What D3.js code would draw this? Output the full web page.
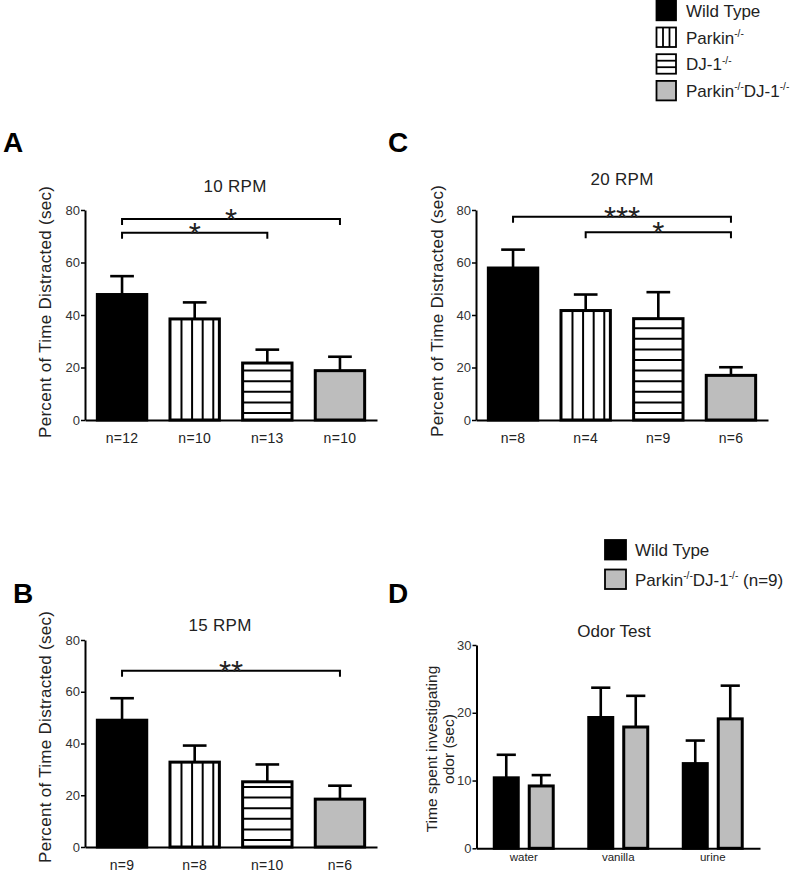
<!DOCTYPE html>
<html><head><meta charset="utf-8">
<script src="https://cdn.jsdelivr.net/npm/d3@7"></script>
<style>body{margin:0;background:#fff}</style>
</head><body>
<svg id="chart" width="800" height="872"></svg>
<script>
// ---------- DATA ----------
const genotypes = ["Wild Type", "Parkin-/-", "DJ-1-/-", "Parkin-/-DJ-1-/-"];
const rpmTicks = [0, 20, 40, 60, 80];

const rpm10Mean = [47.8, 38.5, 21.7, 18.8];
const rpm10Sem  = [7.0, 6.3, 5.1, 5.3];
const rpm10N    = ["n=12", "n=10", "n=13", "n=10"];
const rpm10Sig  = [[0, 3, "*", 76.6], [0, 2, "*", 71.3]];

const rpm15Mean = [49.0, 32.8, 25.2, 18.5];
const rpm15Sem  = [8.5, 6.4, 6.7, 5.2];
const rpm15N    = ["n=9", "n=8", "n=10", "n=6"];
const rpm15Sig  = [[0, 3, "**", 68.1]];

const rpm20Mean = [57.9, 41.7, 38.6, 17.0];
const rpm20Sem  = [7.0, 6.1, 10.1, 3.1];
const rpm20N    = ["n=8", "n=4", "n=9", "n=6"];
const rpm20Sig  = [[0, 3, "***", 77.4], [1, 3, "*", 71.5]];

const odorCats    = ["water", "vanilla", "urine"];
const odorGroups  = ["Wild Type", "Parkin-/-DJ-1-/-"];
const odorTicks   = [0, 10, 20, 30];
const odorWTMean  = [10.4, 19.3, 12.5];
const odorWTSem   = [3.4, 4.4, 3.4];
const odorDKOMean = [9.2, 17.9, 19.1];
const odorDKOSem  = [1.6, 4.6, 4.9];

// legend label pieces: [text, isSuperscript]
const legendLabels = [
  [["Wild Type", false]],
  [["Parkin", false], ["-/-", true]],
  [["DJ-1", false], ["-/-", true]],
  [["Parkin", false], ["-/-", true], ["DJ-1", false], ["-/-", true]]
];
const odorLegendLabels = [
  [["Wild Type", false]],
  [["Parkin", false], ["-/-", true], ["DJ-1", false], ["-/-", true], [" (n=9)", false]]
];

// ---------- STYLE ----------
const FONT = "'Liberation Sans', Arial, Helvetica, sans-serif";
const TEXT = "#222";
const GREY = "#bdbdbd";
const fills = ["#000", "#fff", "#fff", GREY];
const hatch = ["none", "vertical", "horizontal", "none"];

const svg = d3.select("#chart").attr("font-family", FONT);

function richText(sel, pieces, size) {
  let raised = false;
  pieces.forEach(([t, sup]) => {
    const ts = sel.append("tspan").text(t);
    if (sup && !raised) { ts.attr("font-size", size * 0.6).attr("dy", -size * 0.38); raised = true; }
    else if (!sup && raised) { ts.attr("dy", size * 0.38); raised = false; }
    else if (sup) ts.attr("font-size", size * 0.6);
  });
}

function drawBar(g, xb, w, yTop, yBase, fill, hatchType) {
  g.append("rect").attr("x", xb).attr("y", yTop).attr("width", w).attr("height", yBase - yTop)
    .attr("fill", fill);
  if (hatchType === "vertical") {
    for (let xx = xb + 11.5; xx < xb + w - 3; xx += 10.6)
      g.append("line").attr("x1", xx).attr("x2", xx).attr("y1", yTop).attr("y2", yBase)
        .attr("stroke", "#000").attr("stroke-width", 2);
  } else if (hatchType === "horizontal") {
    for (let yy = yBase - 7; yy > yTop + 4; yy -= 10.6)
      g.append("line").attr("x1", xb).attr("x2", xb + w).attr("y1", yy).attr("y2", yy)
        .attr("stroke", "#000").attr("stroke-width", 2);
  }
  g.append("rect").attr("x", xb).attr("y", yTop).attr("width", w).attr("height", yBase - yTop)
    .attr("fill", "none").attr("stroke", "#000").attr("stroke-width", 3);
}

function errBar(g, cx, y1, y2, capW) {
  g.append("line").attr("x1", cx).attr("x2", cx).attr("y1", y1).attr("y2", y2)
    .attr("stroke", "#000").attr("stroke-width", 2.6);
  g.append("line").attr("x1", cx - capW / 2).attr("x2", cx + capW / 2).attr("y1", y2).attr("y2", y2)
    .attr("stroke", "#000").attr("stroke-width", 2.6);
}

function styleYAxis(ax) {
  ax.select(".domain").attr("stroke", "#000").attr("stroke-width", 2);
  ax.selectAll(".tick line").attr("stroke", "#000").attr("stroke-width", 1.5);
  ax.selectAll(".tick text").attr("font-size", 13).attr("fill", "#333").attr("font-family", FONT);
}

function yLabel(cx, cy, lines, size, len) {
  const t = svg.append("text").attr("transform", `translate(${cx},${cy}) rotate(-90)`)
    .attr("text-anchor", "middle").attr("font-size", size).attr("fill", TEXT);
  lines.forEach((l, i) => {
    const ts = t.append("tspan").attr("x", 0).attr("dy", i === 0 ? (lines.length === 1 ? "0.35em" : `${0.35 - (lines.length - 1) * 0.55}em`) : "1.1em").text(l);
    if (len) ts.attr("textLength", len).attr("lengthAdjust", "spacing");
  });
}

function rpmPanel(cfg) {
  const g = svg.append("g");
  const x = d3.scaleBand().domain(genotypes).range([cfg.x0, cfg.x1]).paddingInner(0.32).paddingOuter(0.17);
  const y = d3.scaleLinear().domain([0, 80]).range([cfg.yBottom, cfg.yTop]);
  const bw = x.bandwidth();

  genotypes.forEach((gname, i) => {
    const xb = x(gname);
    errBar(g, xb + bw / 2, y(cfg.mean[i]), y(cfg.mean[i] + cfg.sem[i]), bw * 0.48);
    drawBar(g, xb, bw, y(cfg.mean[i]), y(0), fills[i], hatch[i]);
  });

  const ay = g.append("g").attr("transform", `translate(${cfg.x0},0)`)
    .call(d3.axisLeft(y).tickValues(rpmTicks).tickSize(4).tickSizeOuter(0).tickPadding(1));
  styleYAxis(ay);
  const ax = g.append("g").attr("transform", `translate(0,${y(0)})`)
    .call(d3.axisBottom(x).tickSize(0).tickSizeOuter(0).tickPadding(13).tickFormat((d, i) => cfg.n[i]));
  ax.select(".domain").attr("stroke", "#000").attr("stroke-width", 2);
  ax.selectAll(".tick text").attr("font-size", 14).attr("fill", TEXT).attr("font-family", FONT)
    .attr("letter-spacing", 0.3);

  cfg.sig.forEach(([a, b, lab, lvl]) => {
    const xa = x(genotypes[a]) + bw / 2, xbb = x(genotypes[b]) + bw / 2, yl = y(lvl);
    g.append("path").attr("d", `M${xa},${yl + 6}V${yl}H${xbb}V${yl + 6}`)
      .attr("fill", "none").attr("stroke", "#000").attr("stroke-width", 2);
    g.append("text").attr("x", (xa + xbb) / 2).attr("y", yl + 12).attr("text-anchor", "middle")
      .attr("font-size", 31).attr("fill", TEXT).text(lab);
  });

  g.append("text").attr("x", cfg.titleX).attr("y", cfg.titleY).attr("text-anchor", "middle")
    .attr("font-size", 17).attr("letter-spacing", 0.3).attr("fill", TEXT).text(cfg.title);

  yLabel(cfg.labelX, cfg.labelY, ["Percent of Time Distracted (sec)"], 17, 252);

  svg.append("text").attr("x", cfg.letterX).attr("y", cfg.letterY).attr("font-size", 28)
    .attr("font-weight", "bold").attr("fill", "#000").text(cfg.letter);
}

rpmPanel({x0: 85, x1: 377, yTop: 210, yBottom: 420, mean: rpm10Mean, sem: rpm10Sem, n: rpm10N,
  sig: rpm10Sig, title: "10 RPM", titleX: 235, titleY: 192, labelX: 45, labelY: 312,
  letter: "A", letterX: 3, letterY: 152});
rpmPanel({x0: 476, x1: 768, yTop: 210, yBottom: 420, mean: rpm20Mean, sem: rpm20Sem, n: rpm20N,
  sig: rpm20Sig, title: "20 RPM", titleX: 622, titleY: 185, labelX: 437, labelY: 311,
  letter: "C", letterX: 388, letterY: 152});
rpmPanel({x0: 85, x1: 377, yTop: 640, yBottom: 847, mean: rpm15Mean, sem: rpm15Sem, n: rpm15N,
  sig: rpm15Sig, title: "15 RPM", titleX: 220, titleY: 631, labelX: 45, labelY: 737,
  letter: "B", letterX: 13, letterY: 603});

// ---------- PANEL D ----------
(function () {
  const g = svg.append("g");
  const x0 = d3.scaleBand().domain(odorCats).range([476.5, 760]).paddingInner(0.376).paddingOuter(0.188);
  const x1 = d3.scaleBand().domain(odorGroups).range([0, x0.bandwidth()]).paddingInner(0.314);
  const y = d3.scaleLinear().domain([0, 30]).range([848.3, 645]);
  const bw = x1.bandwidth();
  const series = [[odorWTMean, odorWTSem, "#000"], [odorDKOMean, odorDKOSem, GREY]];
  odorCats.forEach((c, ci) => {
    series.forEach(([m, s, f], si) => {
      const xb = x0(c) + x1(odorGroups[si]);
      errBar(g, xb + bw / 2, y(m[ci]), y(m[ci] + s[ci]), bw * 0.8);
      drawBar(g, xb, bw, y(m[ci]), y(0), f, "none");
    });
  });
  const ay = g.append("g").attr("transform", `translate(476.5,0)`)
    .call(d3.axisLeft(y).tickValues(odorTicks).tickSize(4).tickSizeOuter(0).tickPadding(1));
  styleYAxis(ay);
  const ax = g.append("g").attr("transform", `translate(0,${y(0)})`)
    .call(d3.axisBottom(x0).tickSize(0).tickSizeOuter(0).tickPadding(5));
  ax.select(".domain").attr("stroke", "#000").attr("stroke-width", 2);
  ax.selectAll(".tick text").attr("font-size", 11.5).attr("fill", TEXT).attr("font-family", FONT);

  g.append("text").attr("x", 614).attr("y", 637).attr("text-anchor", "middle")
    .attr("font-size", 17).attr("fill", TEXT).text("Odor Test");
  yLabel(440, 749, ["Time spent investigating", "odor (sec)"], 15.5, null);
  svg.append("text").attr("x", 388).attr("y", 603).attr("font-size", 28)
    .attr("font-weight", "bold").attr("fill", "#000").text("D");

  const lg = svg.append("g");
  odorGroups.forEach((name, i) => {
    const yy = 540 + i * 29.5;
    lg.append("rect").attr("x", 605).attr("y", yy).attr("width", 21).attr("height", 19.5)
      .attr("fill", i === 0 ? "#000" : GREY).attr("stroke", "#000").attr("stroke-width", 1.8);
    const t = lg.append("text").attr("x", 635).attr("y", yy + 16).attr("font-size", 17).attr("fill", TEXT);
    richText(t, odorLegendLabels[i], 17);
  });
})();

// ---------- TOP LEGEND ----------
(function () {
  const lg = svg.append("g");
  genotypes.forEach((name, i) => {
    const yy = 0.8 + i * 26.7, xx = 656.5, w = 19.5, h = 19.5;
    const bg = lg.append("g");
    bg.append("rect").attr("x", xx).attr("y", yy).attr("width", w).attr("height", h).attr("fill", fills[i]);
    if (hatch[i] === "vertical") {
      [1, 2].forEach(k => bg.append("line").attr("x1", xx + w * k / 3).attr("x2", xx + w * k / 3)
        .attr("y1", yy).attr("y2", yy + h).attr("stroke", "#000").attr("stroke-width", 1.8));
    } else if (hatch[i] === "horizontal") {
      [1, 2].forEach(k => bg.append("line").attr("y1", yy + h * k / 3).attr("y2", yy + h * k / 3)
        .attr("x1", xx).attr("x2", xx + w).attr("stroke", "#000").attr("stroke-width", 1.8));
    }
    bg.append("rect").attr("x", xx).attr("y", yy).attr("width", w).attr("height", h)
      .attr("fill", "none").attr("stroke", "#000").attr("stroke-width", 1.8);
    const t = lg.append("text").attr("x", 686).attr("y", yy + 16).attr("font-size", 17).attr("fill", TEXT);
    richText(t, legendLabels[i], 17);
  });
})();
</script>
</body></html>
